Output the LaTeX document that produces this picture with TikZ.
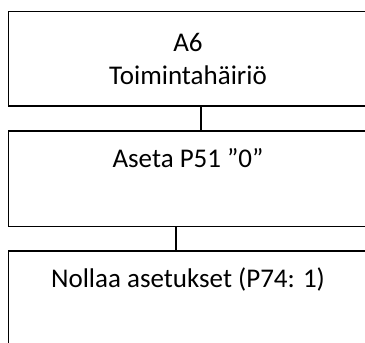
\documentclass[tikz,border=0pt]{standalone}
\usepackage{fontspec}
\setmainfont{Carlito}
\tikzset{
  stepbox/.style={shape=rectangle,draw=black,line width=1.2pt,inner sep=0pt,
    minimum width=359pt,align=center,font=\fontsize{27}{33}\selectfont},
  topbox/.style={stepbox,text height=36.7pt,text depth=58.8pt}
}
\begin{document}
\begin{tikzpicture}[x=1pt,y=1pt]
\useasboundingbox (0,0) rectangle (365,-343);
\node[stepbox,minimum height=94.5pt] (vika) at (188,-58.75) {A6\\Toimintahäiriö};
\node[topbox] (aseta) at (188,-178.75) {Aseta P51 ”0”};
\node[topbox] (nollaa) at (188,-298.75) {Nollaa asetukset (P74: 1)};
\draw[-,line width=1.2pt] ([xshift=13pt]vika.south) -- ([xshift=13pt]aseta.north);
\draw[-,line width=1.2pt] ([xshift=-12pt]aseta.south) -- ([xshift=-12pt]nollaa.north);
\end{tikzpicture}
\end{document}
